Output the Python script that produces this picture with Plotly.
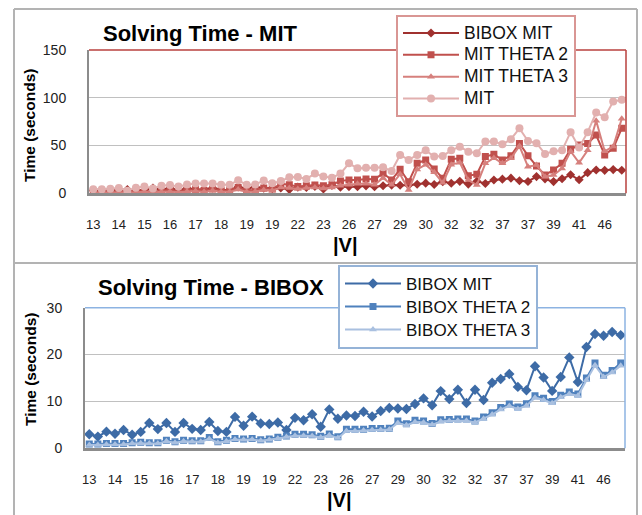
import plotly.graph_objects as go

W, H = 642, 515

# x tick labels (|V|), shown every third category
tick_labels = ["13", "14", "15", "16", "17", "18", "19", "19", "22", "23", "26",
               "27", "29", "30", "32", "32", "37", "37", "39", "41", "46"]

bibox_mit = [3.0, 2.5, 3.55, 3.1, 3.9, 2.9, 3.5, 5.4, 4.1, 5.4,
             3.5, 5.4, 4.15, 3.9, 5.6, 3.7, 3.5, 6.7, 4.8, 6.75,
             5.3, 5.2, 5.5, 3.9, 6.5, 6.0, 7.25, 4.6, 8.3, 6.3,
             7.0, 6.9, 7.8, 6.8, 7.95, 8.6, 8.5, 8.4, 9.45, 10.65,
             9.2, 12.2, 10.5, 12.5, 9.65, 12.5, 10.3, 14.0, 14.8, 15.85,
             13.1, 12.4, 17.5, 15.1, 12.25, 15.2, 19.4, 14.15, 21.6, 24.4,
             24.0, 24.8, 24.15]

bibox_theta2 = [0.9, 0.9, 1.0, 1.0, 1.0, 1.2, 1.3, 1.2, 1.2, 1.7,
                1.4, 1.7, 1.6, 1.6, 2.3, 1.4, 1.7, 2.1, 2.0, 2.1,
                1.8, 2.0, 2.35, 2.6, 3.0, 3.0, 2.9, 2.55, 3.05, 2.45,
                4.05, 4.05, 4.05, 4.25, 4.25, 4.3, 5.8, 5.25, 6.0, 5.85,
                5.3, 6.1, 6.15, 6.25, 6.25, 5.8, 6.7, 7.6, 8.7, 9.45,
                8.8, 9.5, 11.2, 10.7, 10.0, 11.3, 12.0, 11.6, 15.0, 18.2,
                15.6, 16.6, 18.2]

bibox_theta3 = [0.7, 0.7, 0.8, 0.8, 0.8, 1.0, 1.1, 1.0, 1.0, 1.5,
                1.2, 1.5, 1.4, 1.4, 2.0, 1.2, 1.5, 1.9, 1.8, 1.9,
                1.6, 1.8, 2.1, 2.4, 2.7, 2.7, 2.6, 2.3, 2.8, 2.2,
                3.7, 3.7, 3.8, 3.9, 3.9, 4.0, 5.4, 4.9, 5.6, 5.5,
                5.0, 5.7, 5.8, 5.9, 5.9, 5.5, 6.3, 7.2, 8.3, 9.0,
                8.4, 9.1, 10.8, 10.3, 9.6, 10.9, 11.6, 11.2, 14.5, 17.7,
                15.2, 16.2, 17.6]

mit = [4.2, 4.2, 4.8, 5.5, 2.8, 5.9, 7.0, 5.0, 7.8, 8.8,
       7.0, 9.2, 10.3, 10.3, 10.3, 9.0, 9.0, 13.6, 9.0, 9.2,
       13.3, 10.4, 12.8, 16.7, 17.1, 15.0, 20.6, 17.5, 16.4, 20.6,
       31.4, 26.1, 26.8, 26.8, 27.3, 23.3, 40.1, 34.9, 40.1, 45.0,
       38.4, 39.1, 45.0, 48.8, 43.6, 41.9, 54.2, 54.2, 51.3, 56.6,
       68.0, 54.8, 52.4, 41.2, 44.0, 45.0, 64.0, 48.0, 64.0, 84.5,
       79.6, 96.0, 98.0]

mit_theta2 = [1.5, 1.2, 1.5, 1.8, 1.0, 2.0, 2.5, 1.5, 3.0, 3.5,
              2.0, 3.5, 4.0, 3.0, 4.5, 3.0, 3.0, 6.0, 3.0, 3.5,
              5.5, 4.5, 10.0, 9.0, 7.0, 8.0, 8.7, 8.0, 9.0, 13.0,
              14.0, 14.0, 15.0, 14.7, 20.9, 14.0, 25.1, 12.0, 31.4, 34.9,
              25.5, 15.7, 35.6, 36.6, 18.5, 19.9, 38.4, 40.8, 34.9, 39.4,
              52.1, 39.4, 28.5, 19.2, 24.4, 31.4, 46.0, 50.5, 52.1, 61.0,
              40.1, 47.1, 68.0]

mit_theta3 = [0.5, 0.5, 0.8, 0.8, 0.5, 1.0, 1.5, 0.8, 1.5, 2.0,
              1.0, 2.0, 2.5, 1.5, 3.0, 1.5, 1.5, 4.0, 1.5, 2.0,
              3.5, 3.0, 6.0, 5.5, 4.5, 5.5, 6.0, 5.0, 6.0, 8.0,
              9.0, 10.0, 10.0, 9.0, 16.0, 9.0, 20.0, 3.5, 25.0, 30.0,
              22.0, 11.0, 30.0, 32.1, 13.9, 8.7, 31.4, 37.0, 31.4, 36.6,
              49.5, 27.9, 29.6, 17.4, 19.2, 26.0, 44.0, 32.0, 45.0, 76.0,
              44.0, 49.0, 78.0]

x_idx = list(range(len(mit)))
tick_vals = x_idx[::3]

FONT = "Liberation Sans, Arial, sans-serif"


def fx(px):
    return px / W


def fy(py):
    return 1 - py / H


def leg_name(name, size):
    return '<span style="font-size:%spx">%s</span>' % (size, name)


fig = go.Figure()

top_series = [
    ("BIBOX MIT", bibox_mit, "#a0312f", "diamond", 7),
    ("MIT THETA 2", mit_theta2, "#c0504d", "square", 7),
    ("MIT THETA 3", mit_theta3, "#d6807d", "triangle-up", 7),
    ("MIT", mit, "#e2b0af", "circle", 8),
]
for name, vals, col, sym, sz in top_series:
    fig.add_trace(go.Scatter(x=x_idx, y=vals, name=leg_name(name, 17.5), mode="lines+markers",
                             line=dict(color=col, width=2),
                             marker=dict(symbol=sym, size=sz, color=col),
                             xaxis="x", yaxis="y", legend="legend"))

bot_series = [
    ("BIBOX MIT", bibox_mit, "#3d6ba6", "diamond", 8),
    ("BIBOX THETA 2", bibox_theta2, "#4f81bd", "square", 7),
    ("BIBOX THETA 3", bibox_theta3, "#a9c0e0", "triangle-up", 7),
]
for name, vals, col, sym, sz in bot_series:
    fig.add_trace(go.Scatter(x=x_idx, y=vals, name=leg_name(name, 17), mode="lines+markers",
                             line=dict(color=col, width=2),
                             marker=dict(symbol=sym, size=sz, color=col),
                             xaxis="x2", yaxis="y2", legend="legend2"))

xcommon = dict(range=[-0.5, 62.5], tickvals=tick_vals, ticktext=tick_labels,
               showgrid=False, zeroline=False, showline=True, automargin=False,
               linecolor="#8c8c8c", linewidth=3, ticks="",
               ticklabelstandoff=17,
               tickfont=dict(family=FONT, size=13, color="#222"))
ycommon = dict(showgrid=True, gridcolor="#c0c0c0", gridwidth=1, zeroline=False,
               showline=True, linecolor="#8c8c8c", linewidth=2, ticks="",
               automargin=False, ticklabelstandoff=18,
               tickfont=dict(family=FONT, size=14, color="#222"))

legcommon = dict(bgcolor="white", borderwidth=2, xanchor="left", yanchor="top",
                 tracegroupgap=0, itemwidth=56)

fig.update_layout(
    width=W, height=H, autosize=False,
    margin=dict(l=0, r=0, t=0, b=0, pad=0, autoexpand=False),
    paper_bgcolor="white", plot_bgcolor="white",
    showlegend=True,
    xaxis=dict(domain=[fx(89), fx(626)], anchor="y", **xcommon),
    yaxis=dict(domain=[fy(193.3), fy(50)], anchor="x", range=[0, 150],
               tickvals=[0, 50, 100, 150], **ycommon),
    xaxis2=dict(domain=[fx(85), fx(625)], anchor="y2", **xcommon),
    yaxis2=dict(domain=[fy(448.3), fy(307.7)], anchor="x2", range=[0, 30],
                tickvals=[0, 10, 20, 30], **ycommon),
    legend=dict(x=fx(396), y=fy(15), bordercolor="#d99694",
                font=dict(family=FONT, size=14.5, color="#111"), **legcommon),
    legend2=dict(x=fx(338), y=fy(265), bordercolor="#95b3d7",
                 font=dict(family=FONT, size=15.4, color="#111"), **legcommon),
)

shapes = []
panel_col = "#b3b3b3"
# panel borders
shapes.append(dict(type="line", xref="paper", yref="paper", x0=fx(14), x1=fx(637), y0=fy(9), y1=fy(9),
                   line=dict(color=panel_col, width=2)))
shapes.append(dict(type="line", xref="paper", yref="paper", x0=fx(14), x1=fx(637), y0=fy(263), y1=fy(263),
                   line=dict(color=panel_col, width=2)))
shapes.append(dict(type="line", xref="paper", yref="paper", x0=fx(14), x1=fx(14), y0=fy(9), y1=fy(520),
                   line=dict(color=panel_col, width=2)))
shapes.append(dict(type="line", xref="paper", yref="paper", x0=fx(637), x1=fx(637), y0=fy(9), y1=fy(520),
                   line=dict(color=panel_col, width=2)))
# plot area borders (top and right)
shapes.append(dict(type="line", xref="paper", yref="paper", x0=fx(89), x1=fx(626), y0=fy(50), y1=fy(50),
                   line=dict(color="#b8413e", width=1.5)))
shapes.append(dict(type="line", xref="paper", yref="paper", x0=fx(626), x1=fx(626), y0=fy(50), y1=fy(193.3),
                   line=dict(color="#b8413e", width=1.5)))
shapes.append(dict(type="line", xref="paper", yref="paper", x0=fx(85), x1=fx(625), y0=fy(307.7), y1=fy(307.7),
                   line=dict(color="#8db3e2", width=1.5)))
shapes.append(dict(type="line", xref="paper", yref="paper", x0=fx(625), x1=fx(625), y0=fy(307.7), y1=fy(448.3),
                   line=dict(color="#8db3e2", width=1.5)))
fig.update_layout(shapes=shapes)


def add_text(text, x, y, size, angle=0):
    fig.add_annotation(text=text, x=fx(x), y=fy(y), xref="paper", yref="paper",
                       xanchor="center", yanchor="middle", showarrow=False,
                       textangle=angle, font=dict(family=FONT, size=size, color="black"))


add_text("<b>Solving Time - MIT</b>", 200, 34, 22)
add_text("<b>Solving Time - BIBOX</b>", 211, 287, 22)
add_text("<b>Time (seconds)</b>", 30, 126, 15.5, -90)
add_text("<b>Time (seconds)</b>", 30, 370, 15.5, -90)
add_text("<b>|V|</b>", 346, 245, 20)
add_text("<b>|V|</b>", 339, 500, 20)

fig.write_html("out.html", config={"displayModeBar": False},
               post_script="document.body.style.margin='0';document.body.style.overflow='hidden';")
